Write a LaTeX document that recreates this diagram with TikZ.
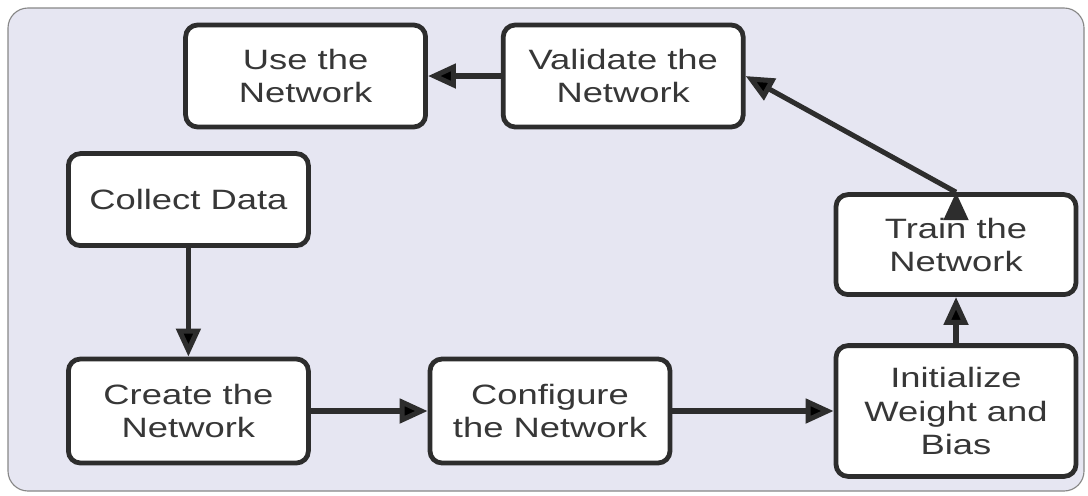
\documentclass[tikz,border=0pt]{standalone}
\usepackage{fontspec}
\setmainfont{Liberation Sans}[FakeStretch=1.3]
\usepackage{xcolor}
\usetikzlibrary{arrows.meta, positioning}
\definecolor{panelfill}{RGB}{230,230,242}
\definecolor{panelline}{RGB}{135,135,135}
\definecolor{boxline}{RGB}{45,45,45}
\definecolor{boxtext}{RGB}{55,55,55}
\tikzset{
  >={Triangle[length=0.7cm, width=0.6cm]}, % filled arrow heads
  flow/.style={->, line width=3.6pt, draw=boxline}, % connector between two steps
  stepbox/.style={draw=boxline, line width=3.4pt, fill=white,
      rounded corners=0.3cm, minimum width=6cm, minimum height=2.55cm,
      inner sep=0pt, align=center, text=boxtext,
      font=\fontsize{19.9}{23.5}\selectfont}, % one step of the workflow
}

\begin{document}
\begin{tikzpicture}
    \useasboundingbox (0,0) rectangle (27.2,-12.375);
    % panel behind the steps
    \draw[panelline, fill=panelfill, line width=0.8pt, rounded corners=0.5cm]
      (0.2,-0.2) rectangle (27.1,-12.275);

    \node[stepbox] (use) at (7.64,-1.9) {Use the\\Network};
    \node[stepbox, right of=use, node distance=7.94cm] (validate) {Validate the\\Network};
    \node[stepbox, minimum height=2.3cm] (collect) at (4.71,-4.99) {Collect Data};
    \node[stepbox, minimum height=2.6cm, below of=collect, node distance=5.285cm] (create) {Create the\\Network};
    \node[stepbox, minimum height=2.6cm, right of=create, node distance=9.04cm] (configure) {Configure\\the Network};
    \node[stepbox, minimum height=3.27cm, right of=configure, node distance=10.15cm] (init) {Initialize\\Weight and\\Bias};
    \node[stepbox, minimum height=2.5cm, above of=init, node distance=4.16cm] (train) {Train the\\Network};

    \draw[flow]
    (validate) edge (use)
    (collect) edge (create)
    (create) edge (configure)
    (configure) edge (init)
    (init) edge (train)
    (train.north) edge (validate.east)
    ;

  \end{tikzpicture}
\end{document}
